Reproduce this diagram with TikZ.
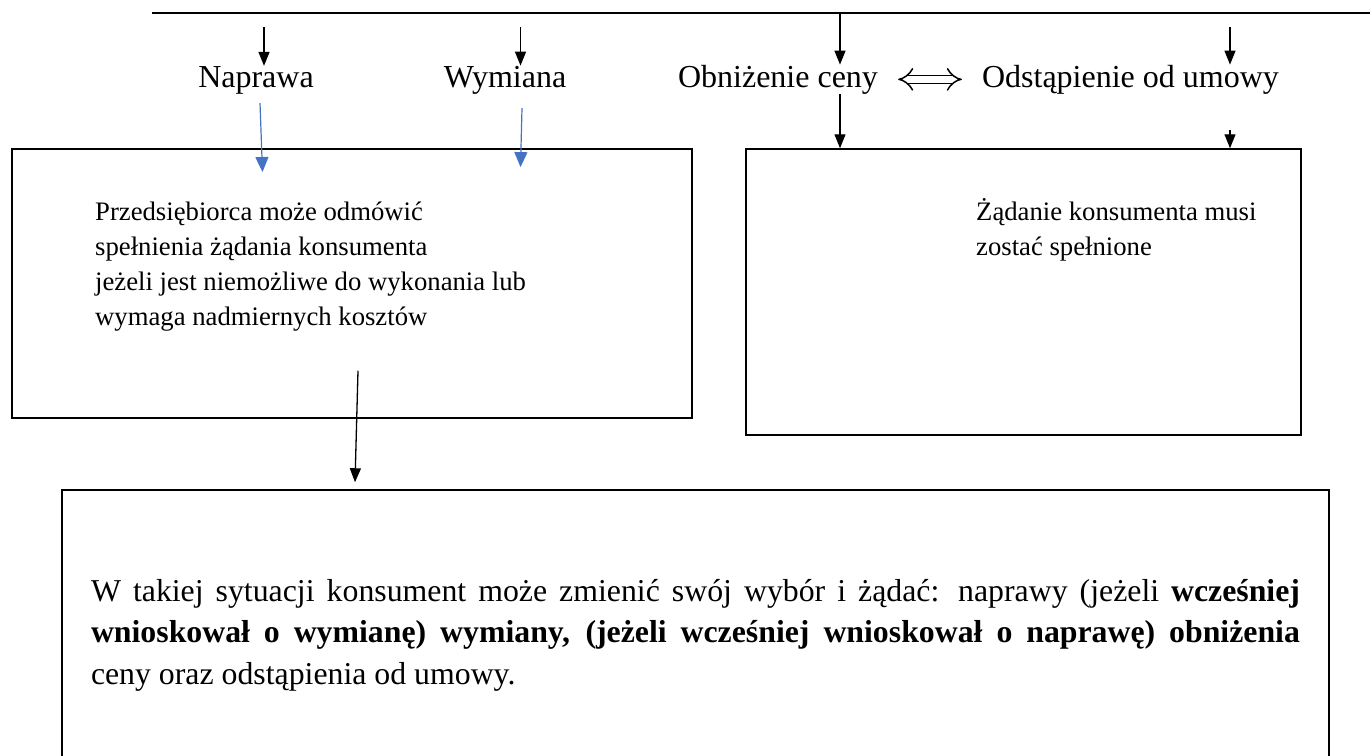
\documentclass[tikz,border=0pt]{standalone}
\usepackage{fontspec}
\setmainfont{Liberation Serif}
\usetikzlibrary{arrows.meta}
\definecolor{arrowblue}{HTML}{4472C4}

\begin{document}
\begin{tikzpicture}[
    x=1pt, y=-1pt,
    lbl/.style={inner sep=0pt, anchor=base, font=\fontsize{32}{38}\selectfont},
    box/.style={draw, line width=1.5pt, inner sep=0pt},
    txt/.style={inner sep=0pt, anchor=north west, align=left, font=\fontsize{26.7}{35}\selectfont},
    arr/.style={-{Triangle[length=14pt,width=11pt]}, line width=1.3pt},
    blu/.style={-{Triangle[length=15pt,width=13pt]}, draw=arrowblue, line width=1.2pt},
    dbl/.style={double, double distance=6.5pt, line width=1.5pt, {Implies}-{Implies}, shorten <=20pt, shorten >=20pt}
  ]
  \useasboundingbox (0,0) rectangle (1370,755);

  % Top line with the four drop points
  \coordinate (busL) at (152,13);
  \coordinate (busR) at (1372,13);
  \coordinate (t1) at (264,13);
  \coordinate (t2) at (520.5,13);
  \coordinate (t3) at (840,13);
  \coordinate (t4) at (1230,13);
  \draw[line width=1.5pt] (busL) -- (busR);

  % Remedies
  \node[lbl] (naprawa) at (256,87) {Naprawa};
  \node[lbl] (wymiana) at (505,87) {Wymiana};
  \node[lbl] (obnizenie) at (778,87) {Obniżenie ceny};
  \node[lbl] (odstapienie) at (1130.5,87) {Odstąpienie od umowy};

  % Boxes
  \node[box, minimum width=680pt, minimum height=269pt] (odmowa) at (352,283.5) {};
  \node[txt] (odmowaTxt) at (95,201.5) {Przedsiębiorca może odmówić\\spełnienia żądania konsumenta\\jeżeli jest niemożliwe do wykonania lub\\wymaga nadmiernych kosztów};

  \node[box, minimum width=555pt, minimum height=286pt] (zgoda) at (1023.5,292) {};
  \node[txt] (zgodaTxt) at (976,198) {Żądanie konsumenta musi\\zostać spełnione};

  \node[box, minimum width=1267pt, minimum height=290pt, text width=1209pt, align=justify,
        font=\fontsize{31.8}{41.5}\selectfont] (wybor) at (695.5,635)
    {\hyphenpenalty 10000 W takiej sytuacji konsument może zmienić swój wybór i żądać: naprawy (jeżeli \textbf{wcześniej}\linebreak
     \textbf{wnioskował o wymianę) wymiany, (jeżeli wcześniej wnioskował o naprawę) obniżenia}\linebreak
     ceny oraz odstąpienia od umowy.};

  % Arrows from the top line
  \draw[arr] ([yshift=-14pt]t1) -- (t1 |- naprawa.north);
  \draw[arr] ([yshift=-14pt]t2) -- (t2 |- wymiana.north);
  \draw[arr] (t3) -- (t3 |- obnizenie.north);
  \draw[arr] ([yshift=-14pt]t4) -- (t4 |- odstapienie.north);

  % Price reduction <=> withdrawal
  \draw[dbl] (obnizenie.east) -- (odstapienie.west);

  % Repair / replacement into the left box
  \draw[blu] ([xshift=4pt,yshift=-9pt]naprawa.south) -- ++(2.5,69);
  \draw[blu] ([xshift=17pt,yshift=-14pt]wymiana.south) -- ++(-1.5,59);

  % Price reduction / withdrawal into the right box
  \draw[arr] (t3 |- obnizenie.south) -- (t3 |- zgoda.north);
  \draw[arr] ([yshift=18pt]t4 |- zgoda.north) -- (t4 |- zgoda.north);

  % Left box down to the bottom box
  \draw[arr] ([xshift=6pt,yshift=48pt]odmowa.south) -- ([xshift=-340.5pt,yshift=7pt]wybor.north);
\end{tikzpicture}
\end{document}
